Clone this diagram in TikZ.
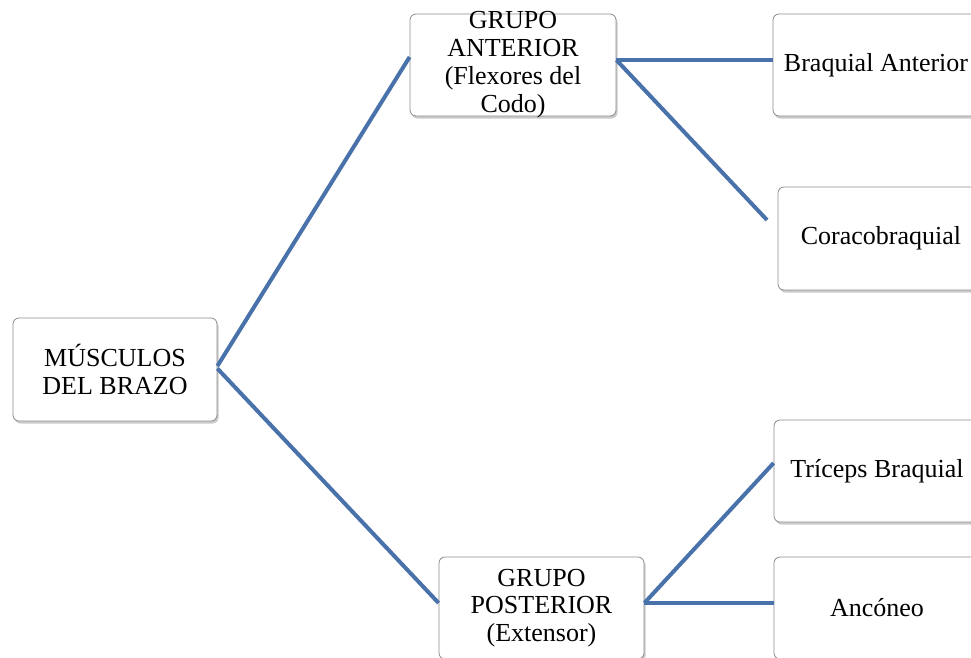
\documentclass[tikz,border=0pt]{standalone}
\usepackage{fontspec}
\setmainfont{Liberation Serif}
\usetikzlibrary{shadows}
\definecolor{lineblue}{RGB}{74,114,170}
\definecolor{boxgray}{RGB}{140,140,140}
\begin{document}
\begin{tikzpicture}[x=1pt,y=-1pt,
  box/.style={draw=boxgray, line width=0.8pt, rounded corners=6pt, fill=white,
    drop shadow={opacity=0.35, shadow xshift=1.5pt, shadow yshift=-2.5pt, fill=black!60},
    minimum height=102pt, inner sep=0pt, align=center,
    font=\fontsize{26}{27.5}\selectfont},
  txt/.style={inner sep=0pt, align=center, font=\fontsize{26}{28}\selectfont},
  conn/.style={draw=lineblue, line width=4pt}]
\useasboundingbox (0,0) rectangle (971,657);
\clip (0,0) rectangle (971,657);
\node[box, minimum width=204pt, minimum height=103pt] (root) at (115,369.5) {MÚSCULOS\\DEL BRAZO};
\node[box, minimum width=206pt] (ant) at (513,65) {};
\node[txt] (antT) at (513,65) {GRUPO\\ANTERIOR\\(Flexores del\\Codo)};
\node[box, minimum width=205pt] (post) at (541.5,608) {GRUPO\\POSTERIOR\\(Extensor)};
\node[box, minimum width=206pt] (braq) at (876,65) {Braquial Anterior};
\node[box, minimum width=206pt, minimum height=103pt] (cora) at (881,238.5) {Coracobraquial};
\node[box, minimum width=206pt] (tri) at (877,471) {Tríceps Braquial};
\node[box, minimum width=206pt] (anc) at (877,608) {Ancóneo};
\coordinate (coraEnd) at (767,220);
\draw[conn] ([yshift=3.5pt]root.east) -- ([yshift=8pt]ant.west);
\draw[conn] ([yshift=1pt]root.east) -- ([yshift=5pt]post.west);
\draw[conn] ([yshift=5pt]ant.east) -- ([yshift=5pt]braq.west);
\draw[conn] ([yshift=5pt]ant.east) -- (coraEnd);
\draw[conn] ([yshift=5pt]post.east) -- ([yshift=8pt]tri.west);
\draw[conn] ([yshift=5pt]post.east) -- ([yshift=5pt]anc.west);
\end{tikzpicture}
\end{document}
